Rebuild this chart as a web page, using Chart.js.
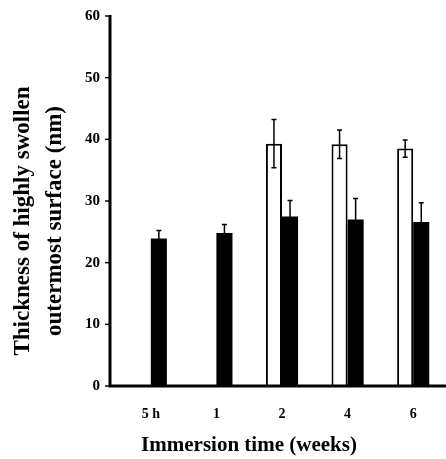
<!DOCTYPE html>
<html>
<head>
<meta charset="utf-8">
<script src="https://cdn.jsdelivr.net/npm/chart.js@4"></script>
<style>
  body { margin: 0; background: #fff; }
  canvas { display: block; }
</style>
</head>
<body>
<canvas id="myChart" width="446" height="459"></canvas>
<script>
'use strict';
// values
let weeks = ['5 h', '1', '2', '4', '6'];
let openBars = [0, 0, 39.3, 39.2, 38.5];
let openErr = [0, 0, 3.9, 2.3, 1.4];
let solidBars = [23.9, 24.8, 27.5, 27.0, 26.6];
let solidErr = [1.3, 1.4, 2.6, 3.4, 3.1];
let yTicks = [0, 10, 20, 30, 40, 50, 60];

let yTitle = ['Thickness of highly swollen', 'outermost surface (nm)'];
let xTitle = 'Immersion time (weeks)';

let serif = '"Liberation Serif", "DejaVu Serif", serif';

// error bars, axis lines and titles
let extras = {
    id: 'extras',
    afterDatasetsDraw(chart) {
        let ctx = chart.ctx;
        let y = chart.scales.y;
        let errs = [openErr, solidErr];
        ctx.save();
        ctx.strokeStyle = '#000';
        ctx.lineWidth = 1.5;
        for (let d = 0; d < 2; d++) {
            let meta = chart.getDatasetMeta(d);
            let vals = chart.data.datasets[d].data;
            for (let i = 0; i < vals.length; i++) {
                if (!errs[d][i]) continue;
                let bx = meta.data[i].x;
                let top = y.getPixelForValue(vals[i] + errs[d][i]);
                let bot = y.getPixelForValue(vals[i] - errs[d][i]);
                ctx.beginPath();
                ctx.moveTo(bx, top);
                ctx.lineTo(bx, bot);
                ctx.moveTo(bx - 2.5, top);
                ctx.lineTo(bx + 2.5, top);
                ctx.moveTo(bx - 2.5, bot);
                ctx.lineTo(bx + 2.5, bot);
                ctx.stroke();
            }
        }

        // axes
        let area = chart.chartArea;
        let ax = area.left - 8;
        ctx.lineWidth = 3;
        ctx.beginPath();
        ctx.moveTo(ax, area.top - 1);
        ctx.lineTo(ax, area.bottom);
        ctx.lineTo(area.right, area.bottom);
        ctx.stroke();
        ctx.lineWidth = 1.5;
        for (let t of yTicks) {
            let py = y.getPixelForValue(t);
            ctx.beginPath();
            ctx.moveTo(ax - 5, py);
            ctx.lineTo(ax, py);
            ctx.stroke();
        }

        // titles
        ctx.fillStyle = '#000';
        ctx.textAlign = 'center';
        ctx.textBaseline = 'middle';
        ctx.font = 'bold 23px ' + serif;
        ctx.save();
        ctx.translate(23, 221);
        ctx.rotate(-Math.PI / 2);
        ctx.fillText(yTitle[0], 0, 0);
        ctx.fillText(yTitle[1], 0, 32);
        ctx.restore();
        ctx.font = 'bold 21px ' + serif;
        ctx.fillText(xTitle, 249, 446);
        ctx.restore();
    }
};

let ctx = document.getElementById('myChart').getContext('2d');
let myChart = new Chart(ctx, {
    type: 'bar',
    data: {
        labels: weeks,
        datasets: [{
            label: 'open',
            data: openBars,
            backgroundColor: '#fff',
            borderColor: '#000',
            borderWidth: 2,
            borderSkipped: 'bottom'
        }, {
            label: 'solid',
            data: solidBars,
            backgroundColor: '#000',
            borderColor: '#000',
            borderWidth: 0
        }]
    },
    options: {
        responsive: false,
        animation: false,
        layout: { padding: { top: 16, right: 0, left: 0, bottom: 0 } },
        categoryPercentage: 0.49,
        barPercentage: 1,
        plugins: {
            legend: { display: false },
            tooltip: { enabled: false }
        },
        scales: {
            x: {
                grid: { display: false, drawTicks: false },
                border: { display: false },
                ticks: {
                    color: '#000',
                    padding: 20,
                    font: { family: serif, size: 14, weight: 'bold' }
                },
                afterFit(scale) { scale.height = 73; }
            },
            y: {
                min: 0,
                max: 60,
                grid: { display: false, drawTicks: false },
                border: { display: false },
                ticks: {
                    stepSize: 10,
                    color: '#000',
                    padding: 18,
                    font: { family: serif, size: 15, weight: 'bold' }
                },
                afterFit(scale) {
                    scale.width = 118;
                    scale.paddingTop = 0;
                    scale.paddingBottom = 0;
                }
            }
        }
    },
    plugins: [extras]
});
</script>
</body>
</html>
